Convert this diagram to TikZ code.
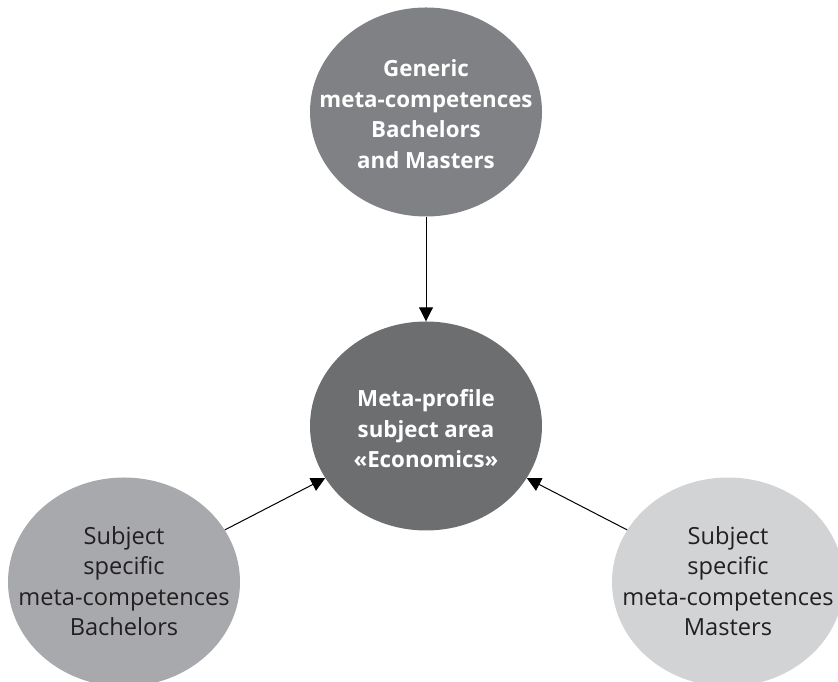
\documentclass[tikz,border=0pt]{standalone}
\usepackage{fontspec}
\setmainfont{Open Sans}
\usetikzlibrary{arrows.meta, shapes.geometric}
\definecolor{gtop}{RGB}{128,129,132}
\definecolor{gmid}{RGB}{109,110,112}
\definecolor{gleft}{RGB}{167,169,172}
\definecolor{gright}{RGB}{209,211,212}
\definecolor{inkdark}{RGB}{35,31,32}
\tikzset{
    blob/.style={ellipse, draw=none, minimum width=232pt, minimum height=209pt, inner sep=0pt},
    lighttxt/.style={align=center, text=white, font=\fontsize{22.3}{30.5}\selectfont\bfseries},
    darktxt/.style={align=center, text=inkdark, font=\fontsize{23.6}{30.5}\selectfont},
    feed/.style={line width=1pt, -{Triangle[length=14pt,width=14pt]}}
}

\begin{document}
\begin{tikzpicture}[x=1pt,y=1pt]
        \useasboundingbox (0,0) rectangle (838,682);
        
        \node[blob, fill=gtop] (generic) at (426,570) {};
        \node[blob, fill=gmid] (profile) at (426,256) {};
        \node[blob, fill=gleft] (bachelors) at (124,100) {};
        \node[blob, fill=gright] (masters) at (728,100) {};
        
        \node[lighttxt] (generictxt) at (426,568) {Generic\\meta-competences\\Bachelors\\and Masters};
        \node[lighttxt] (profiletxt) at (426,253) {Meta-profile\\subject area\\«Economics»};
        \node[darktxt] (bachelorstxt) at (124,101) {Subject\\specific\\meta-competences\\Bachelors};
        \node[darktxt] (masterstxt) at (728,101) {Subject\\specific\\meta-competences\\Masters};
        
        \draw[feed] (generic.south) -- (profile.north);
        \draw[feed] (bachelors) -- (profile);
        \draw[feed] (masters) -- (profile);
    \end{tikzpicture}
\end{document}
